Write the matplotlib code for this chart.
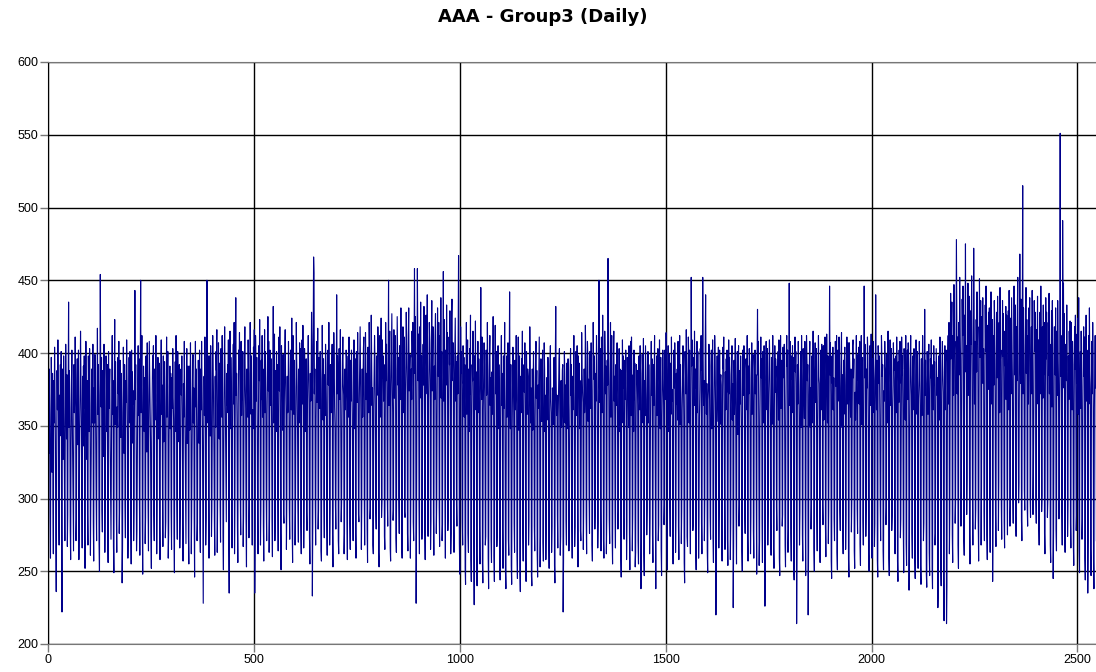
import matplotlib
matplotlib.use("Agg")
import matplotlib.pyplot as plt

# daily values, one list per 52 weeks
year1 = [
    362, 413, 331, 389, 358, 288, 259, 344, 397, 372, 318, 386, 301, 262, 381, 352, 404, 367, 339, 274, 236, 326, 388, 361, 409, 372, 296, 268,
    371, 343, 392, 355, 401, 281, 222, 389, 364, 327, 398, 349, 306, 271, 352, 406, 378, 341, 385, 267, 289, 374, 435, 349, 388, 362, 279, 258,
    338, 381, 402, 356, 327, 293, 264, 392, 359, 374, 411, 381, 271, 286, 361, 396, 337, 368, 402, 258, 297, 347, 372, 415, 384, 353, 302, 266,
    384, 336, 391, 362, 398, 275, 252, 356, 408, 369, 327, 381, 289, 268, 398, 375, 346, 403, 364, 261, 295, 331, 389, 378, 352, 406, 284, 257,
    376, 352, 399, 381, 339, 297, 271, 362, 417, 358, 392, 371, 269, 250, 341, 454, 386, 363, 397, 292, 277, 388, 371, 329, 406, 358, 263, 298,
    355, 398, 382, 346, 392, 281, 256, 401, 362, 374, 389, 335, 304, 272, 337, 386, 412, 358, 381, 267, 249, 379, 423, 351, 394, 367, 288, 263,
    363, 349, 397, 372, 408, 276, 294, 395, 381, 342, 386, 359, 242, 266, 348, 404, 376, 331, 392, 296, 273, 381, 366, 409, 378, 345, 259, 282,
    359, 397, 352, 401, 386, 287, 255, 402, 338, 387, 365, 374, 271, 293, 371, 443, 368, 392, 349, 264, 278, 336, 382, 405, 357, 396, 298, 261,
    387, 450, 359, 378, 412, 283, 248, 355, 391, 374, 346, 383, 269, 287, 398, 363, 332, 407, 371, 294, 264, 364, 408, 386, 361, 339, 276, 252,
    343, 372, 398, 383, 405, 289, 271, 389, 354, 367, 412, 361, 262, 296, 371, 397, 341, 376, 393, 281, 258, 352, 386, 409, 358, 378, 303, 267,
    398, 339, 378, 394, 347, 273, 284, 366, 411, 356, 372, 401, 259, 276, 339, 377, 391, 348, 386, 291, 265, 383, 362, 403, 369, 354, 278, 249,
    357, 394, 346, 412, 377, 296, 272, 401, 368, 384, 339, 392, 266, 288, 346, 389, 371, 398, 361, 283, 257, 379, 356, 408, 374, 337, 301, 269,
    362, 403, 338, 386, 391, 274, 255, 391, 347, 381, 407, 368, 262, 292, 338, 382, 399, 352, 376, 287, 246, 374, 408, 363, 389, 349, 271, 283,
]
year2 = [
    352, 395, 371, 338, 402, 279, 263, 389, 361, 408, 376, 349, 292, 228, 341, 384, 357, 411, 372, 268, 287, 376, 450, 389, 352, 398, 301, 259,
    398, 366, 343, 405, 381, 274, 293, 357, 412, 386, 369, 334, 286, 261, 384, 349, 401, 388, 416, 263, 298, 362, 407, 374, 341, 393, 295, 270,
    403, 378, 356, 412, 367, 276, 251, 339, 391, 418, 383, 356, 304, 284, 386, 364, 392, 359, 409, 271, 235, 371, 415, 348, 397, 378, 288, 266,
    348, 383, 406, 365, 421, 262, 297, 397, 438, 371, 386, 352, 281, 256, 365, 402, 389, 414, 374, 299, 275, 408, 357, 382, 368, 401, 267, 289,
    352, 394, 418, 379, 362, 284, 253, 389, 372, 356, 409, 386, 273, 296, 374, 421, 393, 358, 398, 305, 268, 361, 348, 404, 382, 416, 235, 279,
    412, 386, 367, 397, 354, 291, 262, 346, 405, 381, 423, 372, 268, 294, 395, 368, 412, 356, 389, 282, 257, 378, 416, 359, 401, 367, 297, 271,
    356, 389, 425, 374, 408, 263, 288, 402, 364, 378, 396, 351, 286, 260, 371, 432, 352, 387, 413, 271, 295, 388, 346, 401, 369, 392, 302, 264,
    359, 411, 374, 418, 356, 277, 251, 405, 373, 393, 347, 399, 289, 283, 367, 398, 416, 382, 361, 265, 298, 384, 359, 371, 408, 387, 293, 272,
    347, 402, 389, 361, 424, 279, 256, 412, 376, 358, 395, 371, 268, 291, 364, 421, 394, 377, 348, 297, 270, 389, 352, 407, 386, 403, 282, 262,
    371, 409, 365, 419, 378, 266, 297, 403, 384, 346, 372, 396, 291, 278, 358, 396, 412, 389, 367, 273, 255, 386, 367, 381, 428, 405, 233, 283,
    412, 466, 455, 372, 389, 296, 268, 354, 391, 408, 366, 417, 279, 292, 397, 373, 362, 401, 382, 264, 257, 368, 419, 389, 354, 396, 301, 273,
    385, 357, 406, 392, 366, 287, 261, 349, 402, 378, 421, 389, 268, 294, 392, 371, 359, 384, 406, 276, 253, 376, 414, 397, 363, 349, 295, 279,
    361, 440, 372, 398, 387, 271, 262, 403, 368, 386, 416, 355, 284, 297, 357, 394, 411, 379, 371, 262, 276, 389, 361, 378, 402, 396, 289, 258,
]
year3 = [
    372, 398, 356, 411, 384, 283, 265, 395, 367, 402, 379, 358, 297, 271, 358, 409, 385, 348, 396, 276, 259, 401, 381, 366, 414, 372, 289, 284,
    368, 392, 418, 387, 351, 265, 297, 389, 356, 379, 403, 411, 301, 268, 346, 414, 392, 368, 386, 279, 256, 404, 377, 359, 421, 395, 286, 293,
    381, 426, 398, 364, 376, 268, 262, 362, 389, 412, 395, 351, 294, 279, 398, 371, 385, 418, 406, 263, 253, 375, 412, 356, 389, 424, 287, 298,
    409, 383, 398, 367, 392, 274, 265, 357, 421, 381, 406, 376, 299, 281, 392, 450, 364, 398, 415, 266, 257, 378, 403, 427, 381, 359, 285, 292,
    416, 369, 394, 412, 388, 273, 263, 361, 425, 403, 378, 397, 302, 276, 405, 387, 368, 431, 372, 268, 259, 384, 418, 396, 359, 411, 291, 287,
    372, 392, 428, 403, 381, 276, 264, 412, 431, 374, 388, 399, 259, 296, 389, 368, 415, 397, 421, 284, 271, 401, 458, 386, 425, 364, 228, 288,
    376, 458, 409, 381, 413, 297, 262, 418, 392, 435, 369, 398, 272, 293, 385, 406, 378, 432, 387, 281, 258, 396, 426, 401, 372, 440, 302, 274,
    367, 389, 421, 407, 381, 265, 286, 409, 436, 374, 396, 418, 289, 261, 391, 368, 412, 427, 372, 276, 298, 373, 431, 395, 384, 421, 294, 267,
    412, 386, 438, 369, 401, 271, 282, 381, 456, 367, 423, 391, 305, 259, 402, 378, 433, 385, 414, 278, 291, 368, 411, 392, 429, 376, 262, 276,
    423, 437, 381, 398, 407, 287, 263, 379, 401, 424, 367, 394, 296, 281, 398, 372, 409, 467, 383, 269, 248, 362, 418, 386, 401, 374, 284, 268,
    405, 379, 397, 356, 392, 252, 241, 371, 421, 358, 384, 409, 276, 263, 389, 346, 403, 372, 426, 258, 243, 357, 392, 381, 415, 368, 273, 227,
    398, 369, 422, 361, 387, 262, 240, 375, 408, 359, 396, 374, 281, 255, 393, 445, 386, 368, 411, 256, 242, 361, 384, 407, 392, 352, 268, 274,
    402, 371, 379, 421, 388, 259, 238, 368, 397, 412, 364, 383, 272, 256, 387, 358, 391, 425, 376, 261, 243, 354, 419, 372, 386, 401, 267, 279,
]
year4 = [
    376, 405, 348, 392, 367, 258, 244, 351, 389, 412, 364, 386, 279, 252, 398, 362, 377, 421, 345, 249, 238, 364, 398, 356, 384, 407, 272, 261,
    387, 442, 369, 348, 392, 254, 241, 343, 376, 404, 387, 359, 283, 263, 395, 361, 382, 412, 371, 262, 245, 368, 411, 347, 376, 398, 251, 236,
    384, 359, 396, 363, 415, 278, 257, 352, 392, 373, 407, 368, 259, 243, 401, 374, 358, 389, 384, 268, 286, 366, 418, 391, 352, 376, 247, 240,
    389, 347, 375, 401, 362, 281, 264, 355, 394, 408, 369, 388, 262, 246, 378, 362, 386, 411, 349, 253, 274, 396, 381, 353, 374, 402, 270, 257,
    362, 407, 389, 346, 371, 258, 287, 383, 354, 372, 397, 386, 276, 252, 348, 391, 405, 368, 359, 263, 281, 376, 368, 351, 384, 397, 254, 242,
    394, 432, 382, 357, 371, 289, 266, 357, 379, 396, 403, 344, 261, 274, 381, 349, 364, 388, 392, 222, 258, 362, 401, 385, 352, 378, 285, 268,
    393, 367, 348, 396, 361, 264, 292, 347, 388, 403, 371, 392, 283, 259, 384, 361, 379, 412, 356, 267, 281, 369, 401, 357, 386, 405, 296, 253,
    398, 372, 393, 348, 381, 278, 271, 352, 414, 386, 374, 366, 265, 294, 389, 359, 371, 419, 397, 288, 262, 376, 408, 396, 353, 382, 301, 276,
    401, 384, 362, 407, 374, 268, 257, 358, 421, 389, 382, 398, 279, 297, 386, 367, 412, 394, 357, 266, 283, 372, 450, 381, 366, 403, 292, 264,
    411, 388, 359, 426, 379, 271, 259, 364, 415, 397, 372, 391, 262, 288, 395, 378, 465, 404, 368, 285, 269, 381, 421, 356, 389, 412, 273, 255,
    349, 398, 415, 367, 384, 294, 266, 392, 364, 381, 407, 357, 279, 291, 367, 403, 346, 389, 372, 261, 246, 388, 352, 409, 376, 398, 287, 272,
    356, 395, 368, 402, 364, 258, 284, 397, 371, 384, 349, 405, 276, 251, 362, 408, 357, 411, 378, 264, 289, 385, 346, 402, 368, 393, 253, 263,
    351, 392, 379, 388, 364, 271, 255, 398, 374, 361, 405, 386, 238, 277, 369, 399, 388, 352, 410, 262, 247, 381, 357, 405, 384, 368, 275, 293,
]
year5 = [
    378, 401, 352, 392, 369, 262, 288, 349, 386, 408, 371, 396, 275, 256, 392, 364, 381, 412, 347, 294, 238, 366, 398, 357, 383, 403, 271, 282,
    385, 409, 374, 348, 397, 265, 247, 357, 381, 402, 386, 364, 282, 296, 402, 368, 379, 414, 388, 268, 251, 371, 405, 346, 383, 399, 297, 274,
    393, 358, 411, 367, 375, 276, 255, 348, 402, 376, 407, 391, 263, 289, 386, 365, 389, 354, 408, 281, 258, 395, 412, 351, 392, 369, 269, 293,
    361, 378, 405, 388, 356, 256, 242, 401, 389, 372, 416, 383, 274, 267, 374, 411, 398, 352, 402, 296, 262, 353, 452, 391, 409, 367, 278, 285,
    397, 364, 415, 376, 389, 267, 251, 382, 408, 359, 401, 346, 259, 291, 356, 375, 403, 388, 412, 283, 262, 378, 452, 396, 364, 381, 271, 298,
    405, 440, 384, 358, 379, 264, 249, 368, 376, 406, 391, 354, 287, 272, 391, 402, 348, 379, 409, 274, 256, 352, 383, 412, 401, 366, 220, 281,
    379, 398, 375, 353, 404, 266, 294, 402, 351, 382, 385, 378, 279, 257, 366, 404, 389, 411, 347, 298, 265, 387, 361, 396, 373, 402, 272, 254,
    349, 409, 372, 397, 385, 258, 283, 371, 392, 405, 354, 379, 225, 269, 395, 358, 388, 410, 366, 289, 255, 379, 401, 344, 392, 405, 281, 296,
    388, 365, 398, 376, 351, 264, 250, 402, 383, 371, 405, 387, 293, 276, 354, 396, 389, 361, 412, 273, 257, 391, 372, 403, 394, 348, 262, 288,
    383, 407, 358, 389, 399, 278, 259, 367, 391, 402, 372, 385, 299, 248, 396, 430, 385, 408, 354, 254, 271, 358, 389, 411, 383, 396, 286, 256,
    401, 375, 352, 405, 382, 226, 268, 385, 408, 376, 361, 403, 268, 294, 372, 394, 409, 387, 358, 283, 261, 397, 351, 389, 412, 393, 266, 252,
    363, 405, 373, 396, 388, 294, 278, 391, 378, 401, 354, 409, 259, 247, 376, 412, 362, 379, 395, 281, 289, 404, 388, 383, 406, 351, 268, 253,
    359, 399, 412, 391, 402, 263, 279, 375, 448, 364, 408, 386, 276, 257, 398, 382, 405, 359, 397, 251, 244, 354, 411, 387, 401, 379, 214, 268,
]
year6 = [
    392, 365, 408, 386, 357, 268, 291, 378, 401, 349, 412, 381, 275, 257, 403, 386, 374, 355, 408, 292, 247, 359, 412, 397, 381, 392, 220, 265,
    371, 394, 408, 349, 376, 279, 296, 398, 352, 392, 415, 387, 266, 250, 384, 407, 366, 398, 403, 288, 264, 351, 388, 412, 384, 379, 273, 256,
    379, 402, 361, 406, 395, 296, 282, 405, 354, 378, 393, 411, 281, 260, 387, 413, 396, 352, 398, 269, 293, 364, 446, 385, 407, 371, 257, 245,
    398, 379, 404, 361, 383, 286, 271, 353, 408, 392, 377, 412, 263, 251, 402, 367, 381, 411, 394, 292, 278, 376, 399, 414, 349, 385, 281, 262,
    395, 358, 397, 404, 378, 265, 289, 381, 411, 365, 392, 407, 258, 246, 407, 392, 378, 356, 389, 277, 297, 362, 405, 409, 383, 396, 264, 252,
    373, 354, 387, 412, 381, 293, 276, 399, 381, 404, 365, 408, 269, 254, 384, 412, 351, 378, 397, 286, 268, 361, 446, 383, 406, 388, 274, 296,
    389, 376, 411, 397, 352, 262, 250, 378, 405, 364, 386, 413, 291, 259, 396, 359, 408, 392, 381, 267, 283, 383, 440, 389, 361, 395, 258, 246,
    405, 391, 379, 398, 357, 296, 271, 356, 412, 396, 384, 392, 264, 251, 374, 367, 408, 391, 386, 282, 294, 399, 385, 352, 415, 379, 259, 247,
    386, 409, 381, 364, 403, 278, 288, 362, 378, 407, 388, 396, 295, 262, 381, 398, 359, 411, 384, 257, 243, 394, 366, 402, 379, 408, 273, 286,
    358, 411, 385, 398, 362, 282, 249, 403, 389, 396, 354, 412, 269, 254, 387, 402, 368, 407, 389, 237, 277, 352, 396, 412, 385, 371, 276, 259,
    398, 361, 389, 403, 376, 258, 245, 385, 409, 395, 358, 401, 287, 252, 369, 382, 408, 386, 364, 254, 241, 396, 357, 386, 412, 392, 271, 283,
    362, 430, 371, 395, 379, 248, 239, 401, 384, 358, 387, 406, 263, 247, 375, 396, 383, 409, 352, 252, 238, 392, 361, 405, 378, 394, 268, 276,
    359, 403, 387, 371, 383, 225, 242, 398, 381, 354, 411, 389, 257, 240, 366, 392, 408, 385, 373, 246, 216, 387, 405, 361, 394, 402, 214, 241,
]
year7 = [
    352, 398, 412, 365, 421, 262, 291, 381, 441, 396, 418, 435, 275, 256, 412, 371, 447, 398, 408, 283, 297, 389, 478, 425, 372, 411, 268, 252,
    421, 385, 452, 418, 396, 281, 306, 368, 437, 412, 446, 393, 272, 261, 426, 398, 475, 387, 405, 289, 314, 403, 448, 371, 412, 439, 276, 255,
    379, 429, 406, 453, 384, 301, 268, 396, 472, 431, 365, 408, 279, 293, 423, 387, 442, 406, 418, 285, 257, 371, 451, 397, 402, 436, 268, 309,
    425, 386, 438, 379, 403, 292, 271, 361, 433, 401, 446, 415, 275, 258, 419, 375, 428, 392, 431, 303, 263, 386, 442, 365, 401, 423, 243, 289,
    412, 378, 436, 421, 368, 289, 267, 395, 428, 383, 439, 399, 278, 312, 421, 359, 445, 396, 402, 296, 272, 373, 436, 398, 427, 381, 284, 266,
    415, 391, 432, 368, 426, 307, 275, 388, 429, 361, 443, 397, 281, 295, 424, 372, 438, 406, 381, 302, 283, 369, 446, 403, 385, 433, 288, 274,
    418, 381, 429, 452, 362, 297, 311, 393, 468, 401, 379, 437, 285, 271, 421, 515, 372, 431, 398, 306, 292, 378, 427, 445, 386, 423, 294, 281,
    412, 365, 431, 409, 438, 301, 287, 395, 418, 372, 443, 387, 289, 316, 361, 436, 401, 412, 428, 298, 283, 416, 383, 439, 365, 409, 284, 268,
    387, 428, 372, 446, 399, 291, 302, 418, 369, 433, 385, 421, 276, 262, 372, 438, 396, 428, 381, 287, 298, 421, 385, 441, 372, 406, 268, 256,
    388, 429, 363, 436, 402, 245, 279, 362, 418, 397, 385, 431, 279, 264, 415, 371, 436, 401, 378, 286, 301, 393, 551, 384, 412, 369, 292, 268,
    491, 418, 448, 376, 427, 281, 263, 372, 406, 381, 433, 388, 274, 296, 398, 368, 415, 395, 422, 283, 266, 421, 387, 361, 408, 392, 269, 254,
    365, 418, 389, 426, 371, 278, 291, 413, 379, 424, 358, 438, 264, 249, 386, 401, 362, 415, 377, 272, 286, 358, 393, 418, 384, 411, 259, 244,
    391, 426, 367, 402, 386, 235, 271, 412, 365, 431, 388, 375, 266, 247, 379, 408, 372, 421, 394, 258, 238, 362, 388, 412, 376, 409, 271, 282,
]

values = year1 + year2 + year3 + year4 + year5 + year6 + year7
days = list(range(len(values)))

fig = plt.figure(figsize=(10.96, 6.72), dpi=100)
ax = fig.add_axes([48 / 1096, 28 / 672, 1 - 48 / 1096, 582 / 672])

ax.plot(days, values, color="#00008B", lw=0.8)

ax.set_xlim(0, 2545)
ax.set_ylim(200, 600)
ax.set_xticks(range(0, 2501, 500))
ax.set_yticks(range(200, 601, 50))
ax.grid(True, color="black", lw=1.0)
ax.set_axisbelow(True)

for s in ["top", "bottom"]:
    ax.spines[s].set_color("#777777")
ax.spines["left"].set_color("black")
ax.spines["right"].set_visible(False)
ax.tick_params(axis="both", length=6, width=1, color="#777777", labelsize=9, pad=1)
for lab in ax.get_xticklabels() + ax.get_yticklabels():
    lab.set_fontfamily("Liberation Sans")

fig.text(0.495, 1 - 17 / 672, "AAA - Group3 (Daily)", ha="center", va="center",
         fontsize=13, fontweight="bold", family="DejaVu Sans")

fig.savefig("out.png", dpi=100)
